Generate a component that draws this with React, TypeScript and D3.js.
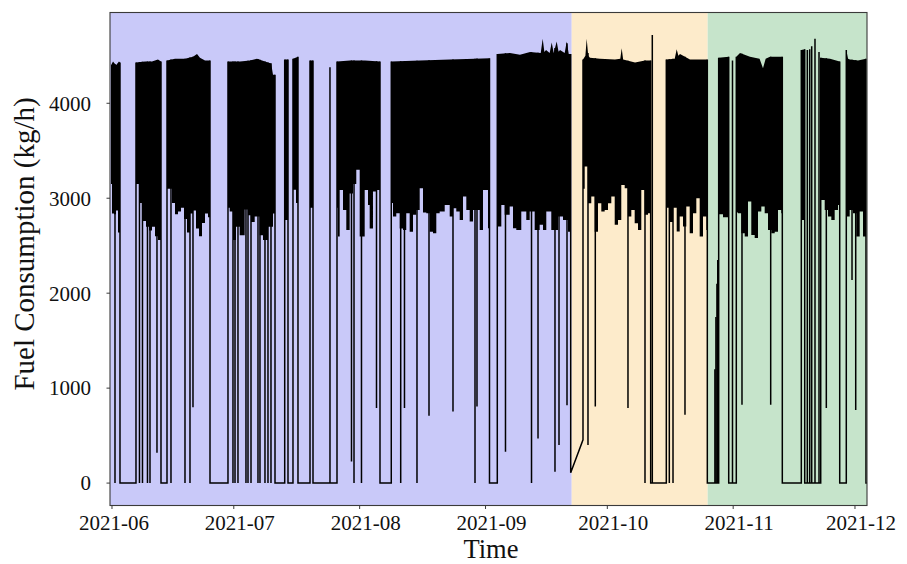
import React from "react";
import * as d3 from "d3";

// ---------------- DATA (days counted from 2021-06-01 00:00 UTC) ----------------
const START_MS = Date.UTC(2021, 5, 1);
const domainDays: [number, number] = [-0.49, 185.96];
const yDomain: [number, number] = [-236, 4956];

const yTicks = [0, 1000, 2000, 3000, 4000];
const xTickLabels = ["2021-06", "2021-07", "2021-08", "2021-09", "2021-10", "2021-11", "2021-12"];

// operating phases shaded behind the series: [fromDay, toDay]
const phaseNames = ["phase A", "phase B", "phase C"];
const phaseSpans: [number, number][] = [
  [-0.49, 113.23],
  [113.23, 146.72],
  [146.72, 185.96],
];

// periods where the engine is running (dense oscillation band): [startDay, endDay]
const runs: [number, number][] = [
  [-0.25, 1.97], [5.91, 12.07], [13.55, 24.14], [28.57, 40.15], [42.54, 43.35],
  [44.58, 45.81], [48.77, 49.51], [55.42, 66.01], [68.79, 92.98], [94.9, 112.98],
  [116.01, 132.68], [136.53, 146.63], [149.43, 151.9], [153.77, 165.1], [169.78, 170.62],
  [174.56, 179.24], [180.86, 185.71],
];
const seriesEndDay = 185.95;

// upper edge of the oscillation band [day, kg/h]
const bandTop: [number, number][] = [
  [-0.25, 4400], [0.25, 4440], [0.99, 4400], [1.72, 4440], [1.97, 4430],
  [5.91, 4430], [8.13, 4440], [9.85, 4440], [11.33, 4460], [12.07, 4440],
  [13.55, 4450], [15.52, 4470], [17.98, 4470], [19.95, 4490], [20.94, 4520], [21.67, 4480], [22.91, 4450], [24.14, 4450],
  [28.57, 4440], [31.53, 4440], [33.99, 4450], [35.71, 4470], [37.68, 4440], [39.2, 4420], [39.66, 4300], [40.15, 4300],
  [42.54, 4460], [43.35, 4460], [44.58, 4470], [45.81, 4490],
  [48.77, 4450], [49.51, 4450],
  [55.42, 4440], [58.62, 4450], [62.32, 4450], [66.01, 4440],
  [68.79, 4440], [75.86, 4450], [83.25, 4460], [89.41, 4470], [92.98, 4475],
  [94.9, 4520], [98.03, 4530], [100.49, 4510], [102.96, 4540], [105.6, 4530], [106.08, 4680], [106.5, 4540],
  [106.9, 4560], [107.8, 4530], [108.3, 4640], [108.8, 4530], [109.53, 4650], [110.0, 4540], [110.34, 4560],
  [111.5, 4530], [112.0, 4650], [112.5, 4520], [112.98, 4520],
  [116.01, 4460], [116.6, 4500], [116.92, 4680], [117.3, 4500], [117.73, 4480], [120.2, 4470], [123.89, 4460],
  [125.2, 4470], [125.54, 4580], [125.9, 4460], [128.82, 4430], [131.28, 4450], [132.68, 4450],
  [136.53, 4460], [138.6, 4470], [139.09, 4570], [139.5, 4500], [139.9, 4520], [142.36, 4460], [146.63, 4460],
  [149.43, 4480], [151.9, 4490],
  [153.77, 4490], [154.68, 4530], [157.14, 4490], [159.5, 4470], [160.34, 4370], [161.0, 4470], [162.07, 4490], [165.1, 4490],
  [169.78, 4560], [170.62, 4570],
  [174.56, 4480], [176.85, 4470], [179.24, 4440],
  [180.86, 4560], [181.3, 4470], [181.77, 4460], [183.74, 4450], [185.71, 4470],
];

// lower edge of the oscillation band [day, kg/h]
const bandBottom: [number, number][] = [
  [-0.25, 3150], [0, 2840], [0.49, 2830], [0.99, 2870], [1.48, 2640], [1.97, 2620],
  [5.91, 3150], [6.9, 2950], [7.64, 2760], [8.37, 2700], [9.11, 2660], [9.85, 2700], [10.59, 2600], [11.33, 2560], [12.07, 2650],
  [13.55, 3100], [14.78, 2950], [15.52, 2830], [16.26, 2860], [16.99, 2900], [17.73, 2780], [18.47, 2640], [19.21, 2840],
  [19.95, 2870], [20.69, 2680], [21.43, 2600], [22.17, 2740], [22.91, 2840], [23.65, 2800], [24.14, 2880],
  [28.57, 2900], [28.99, 2860], [29.8, 2560], [30.54, 2700], [31.45, 2610], [32.68, 2880], [33.5, 2820], [34.24, 2750],
  [35.15, 2807], [36.38, 2610], [37.19, 2560], [38.42, 2700], [39.66, 2840], [40.15, 2900],
  [42.54, 2770], [43.35, 2770], [44.58, 3090], [45.32, 2950], [45.81, 3000],
  [48.77, 2900], [49.51, 2900],
  [55.42, 2900], [55.67, 2596], [56.08, 3087], [56.9, 2877], [57.71, 2666], [58.54, 3050], [59.36, 3150], [60.17, 3300],
  [61.01, 2596], [62.24, 3087], [63.05, 2930], [63.47, 2680], [64.28, 3070], [65.1, 3087], [66.01, 3000],
  [68.79, 2950], [69.21, 2807], [70.02, 2842], [70.86, 2680], [71.67, 2666], [72.48, 2842], [73.32, 2648], [74.14, 2825],
  [74.95, 2877], [75.79, 3105], [76.6, 2850], [77.41, 2842], [78.25, 2648], [79.06, 2631], [79.88, 2842], [80.71, 2860],
  [81.95, 2930], [83.18, 2807], [83.99, 2895], [84.8, 2860], [85.64, 2772], [86.45, 3017], [87.27, 2877], [88.1, 2755],
  [88.92, 2877], [90.57, 2666], [91.38, 3087], [92.61, 2683], [92.98, 2750],
  [94.9, 2701], [95.89, 2930], [96.72, 2825], [97.95, 2912], [98.77, 2683], [99.58, 2666], [100.81, 2860], [102.04, 2772],
  [102.88, 2860], [104.11, 2666], [105.34, 2720], [106.16, 2666], [106.97, 2860], [108.2, 2666], [109.85, 2807],
  [111.08, 2772], [112.32, 2648], [112.98, 2700],
  [116.01, 3100], [116.43, 3333], [117.24, 2947], [118.05, 3017], [118.89, 2648], [119.7, 2947], [120.52, 2860],
  [121.35, 2877], [122.17, 2947], [122.98, 3017], [123.82, 2720], [124.63, 2772], [125.44, 3140], [126.28, 3105],
  [127.09, 2807], [127.91, 2877], [128.74, 2737], [129.56, 2666], [130.37, 3087], [131.21, 2825], [132.02, 2842], [132.68, 2850],
  [136.53, 2900], [137.44, 2750], [138.18, 2900], [139.09, 2650], [139.83, 2807], [140.64, 2701], [141.45, 2912],
  [142.29, 2631], [143.1, 2842], [143.92, 3000], [144.75, 2596], [145.57, 2807], [146.38, 2666], [146.63, 2700],
  [149.43, 2830], [150.49, 2800], [151.9, 2840],
  [153.77, 2850], [154.19, 2842], [155.0, 2631], [155.84, 2596], [156.65, 2965], [157.46, 2613], [158.3, 2580],
  [159.11, 2860], [159.93, 2912], [160.76, 2842], [161.58, 2666], [162.39, 2631], [163.23, 2648], [164.04, 2877],
  [164.85, 2842], [165.1, 2850],
  [169.78, 2772], [170.62, 2772],
  [174.56, 2982], [175.54, 2877], [176.35, 2807], [177.17, 2772], [178.0, 2877], [178.82, 2930], [179.24, 2900],
  [180.86, 2807], [181.7, 2877], [182.51, 2842], [183.32, 2596], [184.16, 2860], [184.98, 2596], [185.71, 2842],
];

// brief drops to zero while running [day]
const zeroDips = [
  0.74, 6.77, 7.51, 8.74, 9.36, 14.53, 17.98, 19.21, 29.8, 30.3, 31.03, 33.0, 33.5, 34.24, 35.96,
  36.45, 37.68, 38.42, 39.16, 59.61, 61.45, 71.11, 75.12, 89.41, 103.33, 131.28, 137.27, 138.18,
];

// brief drops to a partial value while running [day, kg/h]
const partialDips: [number, number][] = [
  [11.08, 320], [19.95, 800], [58.99, 228], [65.15, 790], [72.04, 790], [78.08, 710], [83.99, 755],
  [89.9, 806], [96.92, 330], [104.93, 470], [109.11, 120], [110.1, 400], [112.07, 820], [117.24, 400],
  [119.04, 806], [127.09, 790], [141.13, 720], [155.17, 824], [162.24, 824], [175.94, 790],
  [182.27, 2140], [183.18, 770],
];

// isolated readings while the engine is otherwise off [day, kg/h]
const spikes: [number, number][] = [
  [53.69, 4380], [133.08, 4720], [148.5, 1200], [148.75, 1750], [149.0, 2100], [149.2, 2350],
  [152.83, 4450], [171.26, 4560], [171.85, 4570], [172.34, 4600], [173.15, 4680], [174.14, 4540],
];

// data gap bridged by a straight line [day, kg/h]
const bridge: [number, number][] = [[112.98, 110], [116.01, 455]];

// ---------------- STYLE ----------------
const phaseColors = ["#c9c9f9", "#fdebcb", "#c6e4cb"];
const FONT = "'Liberation Serif', 'Times New Roman', serif";
const PLOT = { left: 110, right: 867, top: 12.5, bottom: 505.5 };
const INNER_LEVEL = 3500; // overlap level where the upper and lower halves of the band meet

const toDate = (d: number) => new Date(START_MS + d * 86400000);

function interp(arr: [number, number][], d: number) {
  const i = d3.bisector((p: [number, number]) => p[0]).left(arr, d);
  if (i <= 0) return arr[0][1];
  if (i >= arr.length) return arr[arr.length - 1][1];
  const [d0, v0] = arr[i - 1];
  const [d1, v1] = arr[i];
  if (d1 === d0) return v1;
  return v0 + ((v1 - v0) * (d - d0)) / (d1 - d0);
}

export default function App() {
  const x = d3.scaleUtc().domain(domainDays.map(toDate)).range([PLOT.left, PLOT.right]);
  const y = d3.scaleLinear().domain(yDomain).range([PLOT.bottom, PLOT.top]);
  const X = (d: number) => x(toDate(d));

  const upperArea = d3
    .area<[number, number]>()
    .x((p) => X(p[0]))
    .y0(y(INNER_LEVEL))
    .y1((p) => y(p[1]));
  const lowerArea = d3
    .area<[number, number]>()
    .x((p) => X(p[0]))
    .y0((p) => y(p[1]))
    .y1(y(INNER_LEVEL + 200))
    .curve(d3.curveStepAfter);

  // engine-off spells: gaps between consecutive runs (except the bridged gap) + tail
  const offSpells: [number, number, boolean][] = [];
  for (let i = 0; i < runs.length - 1; i++) {
    const a = runs[i][1];
    const b = runs[i + 1][0];
    if (a === bridge[0][0] && b === bridge[1][0]) continue;
    offSpells.push([a, b, true]);
  }
  offSpells.push([runs[runs.length - 1][1], seriesEndDay, false]);

  const y0 = y(0);
  const parseMonth = d3.utcParse("%Y-%m");
  const sw = 1.5;

  return (
    <svg
      width={907}
      height={564}
      style={{ position: "absolute", left: 0, top: 0, display: "block", background: "#fff" }}
    >
      <defs>
        <clipPath id="runsClip">
          {runs.map(([a, b], i) => (
            <rect key={i} x={X(a)} y={PLOT.top} width={Math.max(0.5, X(b) - X(a))} height={PLOT.bottom - PLOT.top} />
          ))}
        </clipPath>
        <clipPath id="plotClip">
          <rect x={PLOT.left} y={PLOT.top} width={PLOT.right - PLOT.left} height={PLOT.bottom - PLOT.top} />
        </clipPath>
      </defs>

      {/* phase shading */}
      {phaseSpans.map(([a, b], i) => (
        <rect
          key={phaseNames[i]}
          x={X(a)}
          y={PLOT.top}
          width={X(b) - X(a)}
          height={PLOT.bottom - PLOT.top}
          fill={phaseColors[i]}
        />
      ))}

      <g clipPath="url(#plotClip)">
        {/* dense running band */}
        <g clipPath="url(#runsClip)">
          <path d={upperArea(bandTop) as string} fill="#000" />
          <path d={lowerArea(bandBottom) as string} fill="#000" />
        </g>

        {/* off spells: drop to zero, flat, rise */}
        {offSpells.map(([a, b, rise], i) => (
          <path
            key={"off" + i}
            d={
              `M${X(a)},${y(interp(bandTop, a))}V${y0}H${X(b)}` +
              (rise ? `V${y(interp(bandTop, b))}` : "")
            }
            fill="none"
            stroke="#000"
            strokeWidth={sw}
          />
        ))}

        {/* bridged gap */}
        <path
          d={`M${X(bridge[0][0])},${y(interp(bandTop, bridge[0][0]))}V${y(bridge[0][1])}L${X(bridge[1][0])},${y(
            bridge[1][1]
          )}V${y(interp(bandTop, bridge[1][0]))}`}
          fill="none"
          stroke="#000"
          strokeWidth={sw}
        />

        {/* dips to zero */}
        {zeroDips.map((d, i) => (
          <line key={"z" + i} x1={X(d)} x2={X(d)} y1={y(interp(bandTop, d))} y2={y0} stroke="#000" strokeWidth={sw} />
        ))}

        {/* partial dips */}
        {partialDips.map(([d, v], i) => (
          <line key={"p" + i} x1={X(d)} x2={X(d)} y1={y(interp(bandTop, d))} y2={y(v)} stroke="#000" strokeWidth={sw} />
        ))}

        {/* isolated spikes from zero */}
        {spikes.map(([d, v], i) => (
          <line key={"s" + i} x1={X(d)} x2={X(d)} y1={y0} y2={y(v)} stroke="#000" strokeWidth={sw} />
        ))}
      </g>

      {/* frame */}
      <rect
        x={PLOT.left}
        y={PLOT.top}
        width={PLOT.right - PLOT.left}
        height={PLOT.bottom - PLOT.top}
        fill="none"
        stroke="#3a3a3a"
        strokeWidth={1.1}
      />

      {/* y axis */}
      {yTicks.map((t) => (
        <g key={"yt" + t}>
          <line x1={PLOT.left - 3.5} x2={PLOT.left} y1={y(t)} y2={y(t)} stroke="#3a3a3a" strokeWidth={1} />
          <text
            x={91}
            y={y(t)}
            dy="0.35em"
            textAnchor="end"
            fontFamily={FONT}
            fontSize={21}
            fill="#111"
          >
            {t}
          </text>
        </g>
      ))}

      {/* x axis */}
      {xTickLabels.map((lab, i) => {
        const px = x(parseMonth(lab) as Date);
        return (
          <g key={lab}>
            <line x1={px} x2={px} y1={PLOT.bottom} y2={PLOT.bottom + 3.5} stroke="#3a3a3a" strokeWidth={1} />
            <text
              x={px + (i === 0 ? 2 : 6)}
              y={530}
              textAnchor="middle"
              fontFamily={FONT}
              fontSize={21}
              fill="#111"
            >
              {lab}
            </text>
          </g>
        );
      })}

      <text x={491} y={558.3} textAnchor="middle" fontFamily={FONT} fontSize={26.5} fill="#111">
        Time
      </text>
      <text
        transform={`translate(34,244) rotate(-90)`}
        textAnchor="middle"
        fontFamily={FONT}
        fontSize={29}
        fill="#111"
      >
        Fuel Consumption (kg/h)
      </text>
    </svg>
  );
}
